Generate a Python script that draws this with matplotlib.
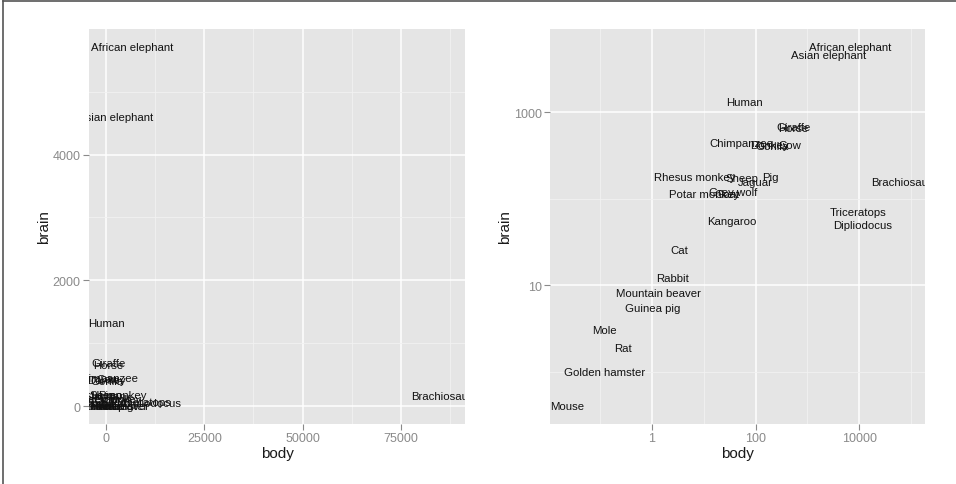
import matplotlib.pyplot as plt
import numpy as np
from matplotlib.lines import Line2D

# MASS::Animals
animals = ['Mountain beaver', 'Cow', 'Grey wolf', 'Goat', 'Guinea pig', 'Dipliodocus',
           'Asian elephant', 'Donkey', 'Horse', 'Potar monkey', 'Cat', 'Giraffe',
           'Gorilla', 'Human', 'African elephant', 'Triceratops', 'Rhesus monkey',
           'Kangaroo', 'Golden hamster', 'Mouse', 'Rabbit', 'Sheep', 'Jaguar',
           'Chimpanzee', 'Rat', 'Brachiosaurus', 'Mole', 'Pig']
body = [1.35, 465, 36.33, 27.66, 1.04, 11700, 2547, 187.1, 521, 10, 3.3, 529,
        207, 62, 6654, 9400, 6.8, 35, 0.12, 0.023, 2.5, 55.5, 100, 52.16, 0.28,
        87000, 0.122, 192]
brain = [8.1, 423, 119.5, 115, 5.5, 50, 4603, 419, 655, 115, 25.6, 680, 406,
         1320, 5712, 70, 179, 56, 1, 0.4, 12.1, 175, 157, 440, 1.9, 154.5, 3, 180]

lin_xticks = [0, 25000, 50000, 75000]
lin_yticks = [0, 2000, 4000]
log_xticks = [1, 100, 10000]
log_yticks = [10, 1000]

FONT = 'Liberation Sans'
TICK_COL = '#8a8a8a'
BG = '#e5e5e5'


def expand(lo, hi, f=0.05):
    d = (hi - lo) * f
    return lo - d, hi + d


def style_axes(ax):
    ax.set_facecolor(BG)
    for s in ax.spines.values():
        s.set_visible(False)
    ax.grid(True, which='major', color='white', linewidth=1.1)
    ax.grid(True, which='minor', color='#f2f2f2', linewidth=0.6)
    ax.set_axisbelow(True)
    ax.tick_params(which='major', length=4, width=0.8, color=TICK_COL,
                   labelcolor=TICK_COL, labelsize=9, pad=2)
    ax.tick_params(which='minor', length=0)
    for lab in ax.get_xticklabels() + ax.get_yticklabels():
        lab.set_fontfamily(FONT)
    ax.set_xlabel('body', fontsize=11, family=FONT, labelpad=1, color='#1a1a1a')
    ax.set_ylabel('brain', fontsize=11, family=FONT, labelpad=1, color='#1a1a1a')


def draw_labels(ax):
    for name, x, y in zip(animals, body, brain):
        ax.text(x, y, name, ha='center', va='center', fontsize=8.2,
                family=FONT, color='#111111', clip_on=True)


fig = plt.figure(figsize=(9.56, 4.85), dpi=100)
W, H = 956, 485
ax1 = fig.add_axes([89 / W, (H - 425) / H, 376 / W, 395 / H])
ax2 = fig.add_axes([550 / W, (H - 425) / H, 375 / W, 395 / H])

# linear panel
ax1.set_xlim(*expand(min(body), max(body)))
ax1.set_ylim(*expand(min(brain), max(brain)))
ax1.set_xticks(lin_xticks)
ax1.set_xticklabels([str(t) for t in lin_xticks])
ax1.set_yticks(lin_yticks)
ax1.set_yticklabels([str(t) for t in lin_yticks])
ax1.set_xticks([12500, 37500, 62500, 87500], minor=True)
ax1.set_yticks([1000, 3000, 5000], minor=True)
draw_labels(ax1)
style_axes(ax1)

# log panel
ax2.set_xscale('log')
ax2.set_yscale('log')
lx = expand(np.log10(min(body)), np.log10(max(body)))
ly = expand(np.log10(min(brain)), np.log10(max(brain)))
ax2.set_xlim(10 ** lx[0], 10 ** lx[1])
ax2.set_ylim(10 ** ly[0], 10 ** ly[1])
ax2.set_xticks(log_xticks)
ax2.set_xticklabels([str(t) for t in log_xticks])
ax2.set_yticks(log_yticks)
ax2.set_yticklabels([str(t) for t in log_yticks])
ax2.set_xticks([0.1, 10, 1000, 100000], minor=True)
ax2.set_yticks([1, 100], minor=True)
ax2.xaxis.set_minor_formatter(plt.NullFormatter())
ax2.yaxis.set_minor_formatter(plt.NullFormatter())
draw_labels(ax2)
style_axes(ax2)

# image frame on top and left edges
fig.add_artist(Line2D([3 / W, 3 / W], [0, 1 - 2 / H], color='#555555', linewidth=1.2))
fig.add_artist(Line2D([3 / W, 1], [1 - 2 / H, 1 - 2 / H], color='#555555', linewidth=1.2))

fig.savefig('out.png', dpi=100)
